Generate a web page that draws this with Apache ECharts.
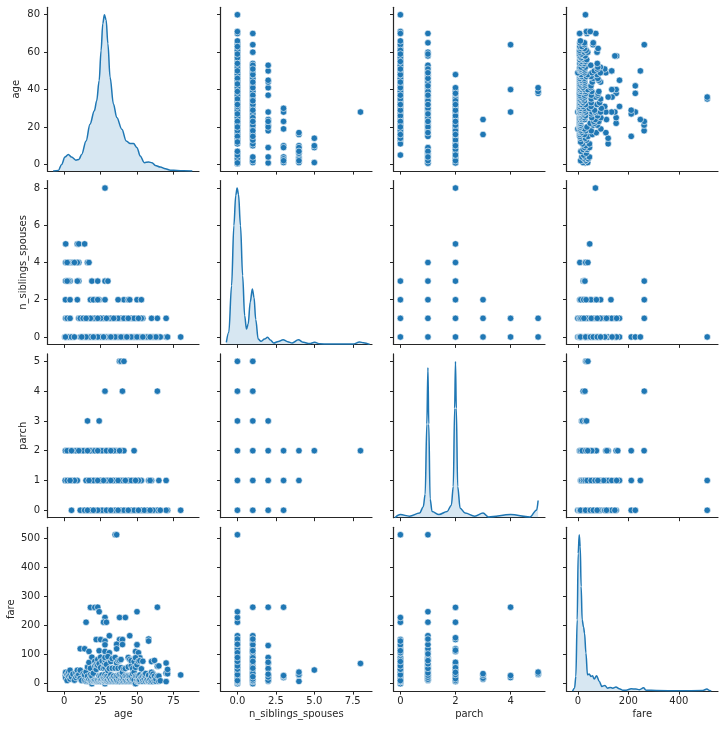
<!DOCTYPE html>
<html><head><meta charset="utf-8">
<script src="https://cdn.jsdelivr.net/npm/echarts@6/dist/echarts.min.js"></script>
<style>html,body{margin:0;padding:0;background:#fff}#c{width:725px;height:730px}</style>
</head><body><div id="c"></div>
<script>
// ---------------- DATA ----------------
const varNames = ['age', 'n_siblings_spouses', 'parch', 'fare'];

// tick labels
const xTicks = [[0, 25, 50, 75], [0, 2.5, 5, 7.5], [0, 2, 4], [0, 200, 400]];
const yTicks = [[0, 20, 40, 60, 80], [0, 2, 4, 6, 8], [0, 1, 2, 3, 4, 5], [0, 100, 200, 300, 400, 500]];

// age by n_siblings_spouses level
const ageSib0 = [28,0.42,40,19,55,4,33,62,24,47,11,36,70,2,51,30,16,44,58,22,6,38,65,26,13,49,34,1,60,21,42,17,53,29,71,45,14,64,25,37,3,56,18,48,31,61,23,5,41,35,52,20,66,27,7,46,39,57,15,32,63,50,0.83,43,59,12,54,80];
const ageSib1 = [28,1,40,19,50,10,33,24,45,3,36,14,52,30,17,42,22,60,38,26,47,11,31,20,54,35,2,43,16,27,49,39,64,21,32,13,46,25,37,53,18,41,29,4,48,34,23,70,44,15,51];
const ageSib2 = [24,0.83,41,18,50,9,28,44,21,4,37,53,20,45,23];
const ageSib3 = [4,28,1,19,10,30,3,23,2,9];
const ageSib4 = [4,16,1,8,10,3,17,6,2,9,7];
const ageSib5 = [1,9,10,14];
const ageSib8 = [28];

// age by parch level
const agePar0 = [28,45,5,36,60,19,52,24,40,13,31,65,47,22,56,34,11,43,27,71,50,17,38,62,25,54,30,15,46,58,21,39,33,64,49,18,26,42,57,35,14,70,29,53,41,23,61,48,32,16,55,37,44,20,59,51,66,80];
const agePar1 = [28,1,45,19,35,5,52,24,40,8,31,60,16,47,22,3,38,26,70,43,18,33,9,50,29,65,21,0.67,41,36,15,48,25,58,6,44,30,53,20,39,2,34,27,46,17,59,23,42,7,51,32,37,4,49];
const agePar2 = [24,1,36,14,30,4,19,48,9,40,22,0.83,33,17,6,28,39,11,25,3,35,20,13,31,41,8,18,26,2,34,21,38,10,29,5,23,16,32];
const agePar3 = [16,24];
const agePar4 = [28,40,64];
const agePar5 = [38,39,41];

// [age, fare]
const ageFare = [
 [35,512.3],[36,512.3],[18,262.4],[21,262.4],[23,263],[24,247.5],[28,227.5],[27,211.5],[29,211.3],[15,211.3],[38,227.5],[42,227.5],[50,247.5],[64,263],
 [31,164.9],[22,151.6],[25,151.6],[28,146.5],[28,133.6],[38,151.6],[40,151.6],[36,135.6],[40,134.5],[45,164.9],[58,153.5],[58,146.5],[50,133.7],[36,120],[11,120],[14,120],[17,110.9],[24,113.3],[28,110.9],[31,106.4],[49,110.9],[51,106.4],[52,89],[50,134],
 [0.8,29],[1,39],[1,20],[2,31],[2,11],[3,26],[3,41],[4,16],[4,29],[4,46],[5,23],[6,33],[7,12],[8,21],[8,37],[9,27],[9,46],[10,31],[11,18],[11,46],[12,11],[13,34],[14,11],[14,30],[15,8],[15,40],
 [16,8],[16,26],[16,57],[17,8],[17,14],[17,73],[18,8],[18,11],[18,31],[18,53],[19,0],[19,8],[19,26],[19,91],[20,8],[20,9],[20,36],[21,8],[21,11],[21,61],[21,77],[22,7],[22,10],[22,49],[22,66],[23,8],[23,13],[23,63],[23,83],[24,8],[24,16],[24,27],[24,69],[25,7],[25,13],[25,26],[25,55],[25,91],[26,8],[26,14],[26,30],[26,78],[27,8],[27,11],[27,21],[27,53],[28,0],[28,7],[28,8],[28,15],[28,24],[28,31],[28,56],[28,69],[28,82],[28,90],[29,8],[29,10],[29,26],[29,66],[30,7],[30,13],[30,27],[30,45],[30,93],[31,8],[31,21],[31,52],[32,8],[32,13],[32,30],[32,76],[33,8],[33,20],[33,53],[33,86],[34,8],[34,13],[34,26],[35,8],[35,21],[35,53],[35,90],[36,8],[36,13],[36,27],[36,71],[37,8],[37,26],[37,53],[37,79],[38,7],[38,31],[38,80],[39,8],[39,13],[39,29],[39,55],[39,83],[40,8],[40,15],[40,27],[40,39],[41,8],[41,20],[41,51],[42,8],[42,13],[42,27],[42,52],[43,8],[43,26],[44,8],[44,16],[44,27],[44,57],[44,90],[45,8],[45,14],[45,26],[45,83],[46,8],[46,26],[46,61],[46,79],[47,8],[47,15],[47,34],[47,52],[48,8],[48,13],[48,39],[48,76],[49,0],[49,26],[49,56],[49,89],[50,8],[50,13],[50,26],[50,65],[51,8],[51,12],[51,26],[51,77],[52,8],[52,13],[52,30],[52,79],[53,21],[53,51],[54,8],[54,14],[54,26],[54,77],[55,16],[55,30],[56,8],[56,26],[56,35],[57,10],[57,13],[58,8],[58,26],[58,29],[59,7],[59,14],[60,8],[60,26],[60,39],[60,76],[61,7],[61,33],[62,10],[62,26],[62,80],[63,8],[63,16],[64,26],[64,60],[65,8],[65,26],[65,61],[66,10],[70,7],[70,71],[70,36],[71,34],[71,49],[80,30]
];

// [n_siblings_spouses, parch]
const sibPar = [[0,0],[1,0],[2,0],[3,0],[0,1],[1,1],[2,1],[3,1],[4,1],[0,2],[1,2],[2,2],[3,2],[4,2],[5,2],[8,2],[0,3],[1,3],[2,3],[0,4],[1,4],[0,5],[1,5]];

// fare by n_siblings_spouses level
const fareSib0 = [26,0,79.2,8,151.6,13,52,110.9,7.75,35.5,66.6,9,120,30,86.5,5,42,164.9,15,56.5,134.5,7.2,27.7,93.5,40,10.5,211.3,71,31,146.5,50,81.9,106.4,61,227.5,76.7,153.5,90,135.6,247.5,512.3];
const fareSib1 = [26,0,83.2,14.5,52,135.6,7,30,110.9,57,20,164.9,39,90,10.5,66.6,151.6,27.7,120,46.9,16,78.8,35.5,146.5,24,93.5,55,133.7,71.3,106.4,60,153.5,82.2,53.1,89.1,113.3,76.7,263];
const fareSib2 = [26,7.9,69,18,131,49.5,11.5,90,30,52,23,73.5,32.5,263];
const fareSib3 = [21.1,25.5,27.9,263];
const fareSib4 = [7.9,29.1,31.3,39.7];
const fareSib5 = [46.9];
const fareSib8 = [69.55];

// fare by parch level
const farePar0 = [26,0,79.2,8.05,151.6,13,52,110.9,7.75,35.5,66.6,9.5,120,29.7,86.5,6.5,42.4,15.5,56.9,133.7,7.25,26.55,90,39.6,10.5,211.3,71.3,30.5,146.5,49.5,82.2,106.4,61.2,227.5,76.3,113.3,512.3];
const farePar1 = [26,11.1,77.3,20.2,151.6,41.6,110.9,12.3,55,86.5,32.5,164.9,15.2,63.4,120,22,46.9,91.1,29,134.5,59.4,36.8,83.2,102.3,52.5,153.5,68.3,79.2,211.5,247.5,512.3];
const farePar2 = [27.9,7,68,14.5,120,34.4,11.1,151.6,49.5,21,110.9,37,17,73.5,31.4,158,55,39,115,211.3,262.4];
const farePar3 = [15,18.75,29,34.4];
const farePar4 = [21,27.9,263];
const farePar5 = [31.4,34.4,39.7];

// KDE curves: [value, relative density]
const ageKde = [[-7.6,0],[-4.1,0.004],[-1.8,0.043],[0.5,0.09],[2.8,0.107],[5,0.09],[8,0.07],[10.1,0.075],[12,0.107],[15,0.193],[17.7,0.3],[20.7,0.386],[22.3,0.45],[24,0.58],[25.3,0.77],[26.5,0.944],[27.6,1],[28.8,0.966],[30,0.815],[31.5,0.6],[33.8,0.43],[36.1,0.343],[39.6,0.268],[42.6,0.193],[45.3,0.176],[47.6,0.176],[50,0.15],[52.2,0.097],[55,0.054],[58,0.058],[60.3,0.054],[62.6,0.036],[66,0.026],[69.5,0.015],[73,0.006],[77.5,0.004],[82,0.002],[88,0]];
const sibKde = [[-0.72,0.013],[-0.56,0.077],[-0.38,0.376],[-0.23,0.76],[-0.11,0.953],[-0.02,1],[0.07,0.96],[0.2,0.76],[0.34,0.44],[0.47,0.184],[0.59,0.098],[0.7,0.13],[0.83,0.27],[0.97,0.355],[1.08,0.3],[1.19,0.16],[1.35,0.034],[1.53,0.02],[1.76,0.034],[1.96,0.045],[2.14,0.028],[2.36,0.009],[2.66,0.019],[2.97,0.03],[3.27,0.017],[3.56,0.009],[3.96,0.03],[4.3,0.013],[4.68,0.006],[5.02,0.013],[5.36,0.004],[5.9,0.002],[7.5,0.002],[7.95,0.015],[8.2,0.011],[8.6,0]];
const parchKde = [[-0.2,0],[0,0.02],[0.33,0.01],[0.7,0.03],[0.83,0.07],[0.9,0.15],[0.96,0.6],[1,0.96],[1.03,0.6],[1.08,0.12],[1.15,0.04],[1.4,0.02],[1.7,0.04],[1.85,0.08],[1.92,0.2],[1.97,0.7],[2,1],[2.03,0.7],[2.08,0.2],[2.17,0.06],[2.35,0.03],[2.7,0.01],[3,0.03],[3.2,0.005],[4,0.02],[4.7,0.005],[4.95,0.05],[5,0.11]];
const fareKde = [[-21,0],[-13,0.02],[-8,0.094],[-2.6,0.456],[1.3,0.88],[5.3,1],[9.3,0.925],[13,0.67],[17,0.456],[22.5,0.41],[26.5,0.37],[32,0.243],[38,0.104],[45,0.11],[51.6,0.094],[58,0.098],[65,0.077],[74,0.098],[85,0.062],[95,0.03],[107,0.036],[118,0.019],[128,0.023],[138,0.019],[151,0.026],[164,0.015],[177,0.006],[191,0.006],[211,0.015],[230,0.013],[244,0.009],[260,0.021],[270,0.006],[310,0.004],[403,0.002],[495,0.004],[511,0.013],[522,0.004],[528,0]];

// ---------------- BUILD ----------------
function levels(obj) { const out = []; for (const k in obj) obj[k].forEach(v => out.push([Number(k), v])); return out; }
const pairs = {
  '0-1': levels({0: ageSib0, 1: ageSib1, 2: ageSib2, 3: ageSib3, 4: ageSib4, 5: ageSib5, 8: ageSib8}).map(d => [d[1], d[0]]),
  '0-2': levels({0: agePar0, 1: agePar1, 2: agePar2, 3: agePar3, 4: agePar4, 5: agePar5}).map(d => [d[1], d[0]]),
  '0-3': ageFare,
  '1-2': sibPar,
  '1-3': levels({0: fareSib0, 1: fareSib1, 2: fareSib2, 3: fareSib3, 4: fareSib4, 5: fareSib5, 8: fareSib8}),
  '2-3': levels({0: farePar0, 1: farePar1, 2: farePar2, 3: farePar3, 4: farePar4, 5: farePar5})
};
const kdes = [ageKde, sibKde, parchKde, fareKde];

const xRange = [[-11.5, 92.6], [-1.1, 8.75], [-0.25, 5.25], [-45, 555]];
const yRange = [[-3.56, 83.98], [-0.4, 8.4], [-0.25, 5.25], [-25.6, 537.9]];
const colLeft = [47.5, 220.5, 393.5, 566.5];
const rowTop = [7.3, 180.6, 353.9, 527.3];
const W = 151.5, H = 163.8;
const yNameX = [16.3, 23.5, 23.5, 11.5];
const xNameY = 714.3;
const dark = '#262626';
const blue = '#1f77b4';
const font = 'DejaVu Sans';
const fs = 10;

const grid = [], xAxis = [], yAxis = [], series = [], graphic = [];
for (let r = 0; r < 4; r++) {
  for (let c = 0; c < 4; c++) {
    const g = r * 4 + c;
    grid.push({left: colLeft[c], top: rowTop[r], width: W, height: H, containLabel: false});
    xAxis.push({
      gridIndex: g, type: 'value', min: xRange[c][0], max: xRange[c][1],
      axisLine: {show: true, onZero: false, lineStyle: {color: dark, width: 1.2}},
      axisTick: {show: true, customValues: xTicks[c], length: 3.5, lineStyle: {color: dark, width: 1}},
      axisLabel: {show: r === 3, customValues: xTicks[c], margin: 5.5, color: dark, fontSize: fs, fontFamily: font,
        formatter: v => c === 1 ? v.toFixed(1) : String(v)},
      splitLine: {show: false}
    });
    yAxis.push({
      gridIndex: g, type: 'value', min: yRange[r][0], max: yRange[r][1],
      axisLine: {show: true, onZero: false, lineStyle: {color: dark, width: 1.2}},
      axisTick: {show: true, customValues: yTicks[r], length: 3.5, lineStyle: {color: dark, width: 1}},
      axisLabel: {show: c === 0, customValues: yTicks[r], margin: 7.5, color: dark, fontSize: fs, fontFamily: font},
      splitLine: {show: false}
    });
    if (r !== c) {
      let data;
      if (c < r) data = pairs[c + '-' + r];
      else data = pairs[r + '-' + c].map(d => [d[1], d[0]]);
      series.push({
        type: 'scatter', xAxisIndex: g, yAxisIndex: g, data: data,
        symbol: 'circle', symbolSize: 6.5,
        itemStyle: {color: blue, borderColor: '#ffffff', borderWidth: 0.6, opacity: 1}
      });
    }
  }
}
for (let d = 0; d < 4; d++) {
  const g = d * 4 + d;
  yAxis.push({gridIndex: g, type: 'value', min: 0, max: 1.048, show: false, splitLine: {show: false}});
  series.push({
    type: 'line', xAxisIndex: g, yAxisIndex: 16 + d, data: kdes[d],
    showSymbol: false, smooth: 0.35, smoothMonotone: 'x',
    lineStyle: {color: blue, width: 1.5},
    areaStyle: {color: 'rgba(31,119,180,0.25)', origin: 'start'}
  });
  // axis titles
  graphic.push({
    type: 'text', x: colLeft[d] + W / 2, y: xNameY,
    style: {text: varNames[d], fill: dark, font: fs + 'px "DejaVu Sans"', align: 'center', verticalAlign: 'middle', textAlign: 'center', textVerticalAlign: 'middle'}
  });
  graphic.push({
    type: 'text', x: yNameX[d], y: rowTop[d] + H / 2, rotation: Math.PI / 2,
    style: {text: varNames[d], fill: dark, font: fs + 'px "DejaVu Sans"', align: 'center', verticalAlign: 'middle', textAlign: 'center', textVerticalAlign: 'middle'}
  });
}

const chart = echarts.init(document.getElementById('c'), null, {renderer: 'canvas'});
chart.setOption({animation: false, backgroundColor: '#fff', grid, xAxis, yAxis, series, graphic});
</script></body></html>
